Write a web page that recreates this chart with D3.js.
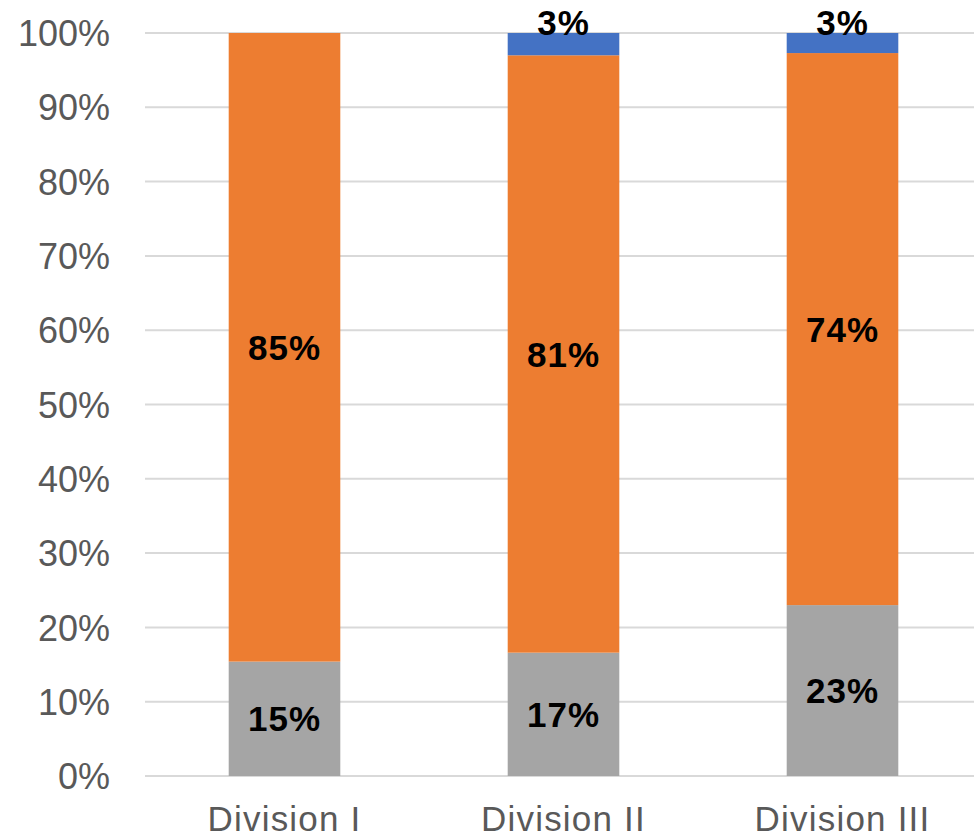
<!DOCTYPE html>
<html><head><meta charset="utf-8">
<script src="https://cdn.jsdelivr.net/npm/d3@7"></script>
<style>body{margin:0;background:#fff}svg{display:block}</style>
</head><body>
<svg id="c" width="974" height="840"></svg>
<script>
const categories = ["Division I", "Division II", "Division III"];
const seriesNames = ["gray", "orange", "blue"];
const grayValues = [15.4, 16.6, 23.0];
const orangeValues = [84.6, 80.4, 74.3];
const blueValues = [0, 3.0, 2.7];
const grayLabels = ["15%", "17%", "23%"];
const orangeLabels = ["85%", "81%", "74%"];
const blueLabels = ["", "3%", "3%"];
const yTicks = [0, 10, 20, 30, 40, 50, 60, 70, 80, 90, 100];
const colors = {gray: "#a5a5a5", orange: "#ed7d31", blue: "#4472c4"};

const svg = d3.select("#c");
const font = "'Liberation Sans', Arial, sans-serif";
const x = d3.scaleBand().domain(categories).range([145, 982]).paddingInner(0.6).paddingOuter(0.3);
const y = d3.scaleLinear().domain([0, 100]).range([776, 33]);

// gridlines
svg.append("g").selectAll("line").data(yTicks).join("line")
  .attr("x1", 145).attr("x2", 974)
  .attr("y1", d => y(d)).attr("y2", d => y(d))
  .attr("stroke", "#d9d9d9").attr("stroke-width", 2);

// y axis
const yAxis = d3.axisLeft(y).tickValues(yTicks).tickFormat(d => d + "%").tickSize(0).tickPadding(0);
const ya = svg.append("g").attr("transform", "translate(110,0)").call(yAxis);
ya.select(".domain").remove();
ya.selectAll("text").attr("font-family", font).attr("font-size", 36).attr("fill", "#595959").attr("dy", "0.35em");

// x axis
const xAxis = d3.axisBottom(x).tickSize(0).tickPadding(0);
const xa = svg.append("g").attr("transform", "translate(0,806)").call(xAxis);
xa.select(".domain").remove();
xa.selectAll("text").attr("font-family", font).attr("font-size", 35).attr("letter-spacing", 1.2).attr("fill", "#595959").attr("dy", "0.72em");

const table = categories.map((c, i) => ({cat: c, gray: grayValues[i], orange: orangeValues[i], blue: blueValues[i], i}));
const stack = d3.stack().keys(seriesNames)(table);
const labels = {gray: grayLabels, orange: orangeLabels, blue: blueLabels};

stack.forEach(s => {
  svg.append("g").selectAll("rect").data(s).join("rect")
    .attr("x", d => x(d.data.cat)).attr("width", x.bandwidth())
    .attr("y", d => y(d[1])).attr("height", d => y(d[0]) - y(d[1]))
    .attr("fill", colors[s.key]);
});

stack.forEach(s => {
  svg.append("g").selectAll("text").data(s).join("text")
    .attr("x", d => x(d.data.cat) + x.bandwidth() / 2)
    .attr("y", d => s.key === "blue" ? y(d[1]) - 11 : (y(d[0]) + y(d[1])) / 2)
    .attr("dy", "0.36em")
    .attr("text-anchor", "middle")
    .attr("font-family", font).attr("font-weight", "bold").attr("font-size", 35)
    .attr("letter-spacing", 1)
    .attr("fill", "#000")
    .text(d => labels[s.key][d.data.i]);
});
</script>
</body></html>
